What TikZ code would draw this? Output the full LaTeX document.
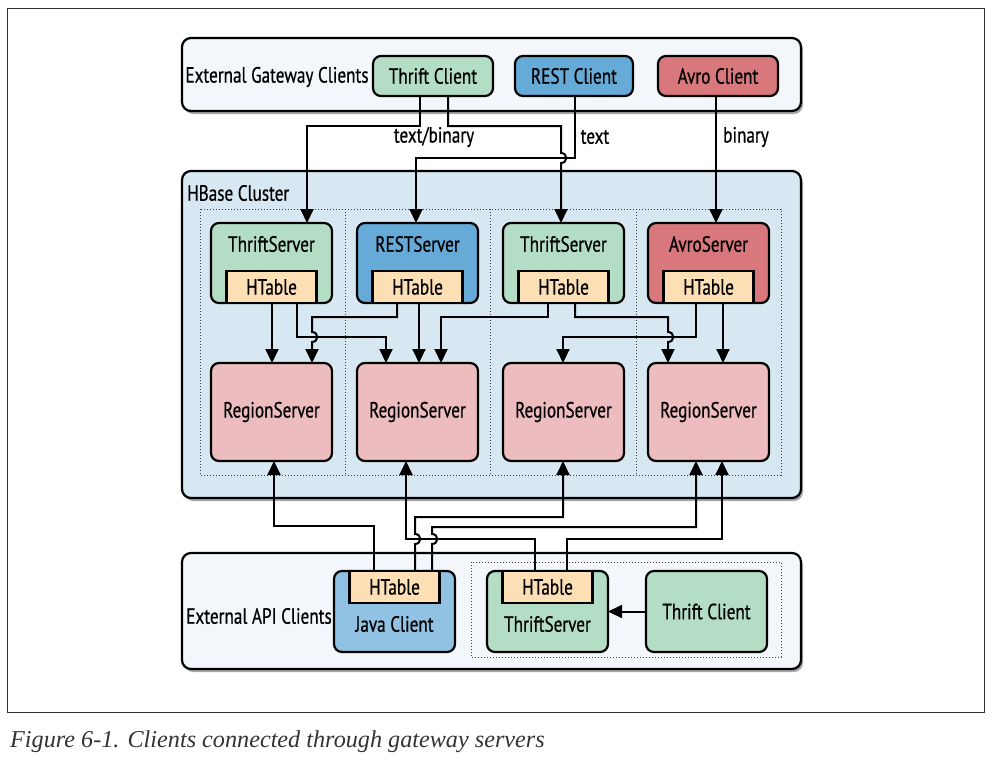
\documentclass[tikz,border=0pt]{standalone}
\usepackage{fontspec}
\setmainfont{Liberation Serif}
\newfontfamily\diag[FakeStretch=0.78,FakeBold=0.6]{PT Sans}
\usetikzlibrary{arrows.meta,shadows}
\definecolor{mint}{HTML}{B3DEC5}
\definecolor{restblue}{HTML}{66AAD8}
\definecolor{avrored}{HTML}{D9787C}
\definecolor{peach}{HTML}{FDDFB6}
\definecolor{rspink}{HTML}{ECBCBE}
\definecolor{clusterbg}{HTML}{D8E8F3}
\definecolor{panelbg}{HTML}{F3F7FB}
\definecolor{javablue}{HTML}{91C1E3}
\definecolor{capgray}{HTML}{333333}
\begin{document}
\begin{tikzpicture}[x=1pt,y=-1pt,
  font=\diag\fontsize{22}{25}\selectfont,
  panel/.style={draw=black, line width=2.2pt, rounded corners=9pt, fill=panelbg,
    inner sep=0pt, outer sep=0pt,
    drop shadow={shadow xshift=2pt, shadow yshift=-3pt, opacity=0.35, fill=black}},
  box/.style={draw=black, line width=2.2pt, rounded corners=8pt, inner sep=0pt, outer sep=0pt},
  htab/.style={draw=black, line width=2.2pt, fill=peach, inner sep=0pt, outer sep=0pt,
    minimum width=90pt, minimum height=32pt},
  srv/.style={box, minimum width=121pt, minimum height=80pt},
  rsv/.style={box, fill=rspink, minimum width=121pt, minimum height=98pt},
  cli/.style={box, minimum width=120pt, minimum height=40pt},
  txt/.style={inner sep=0pt},
  dots/.style={draw=black!75, line width=0.9pt, dash pattern=on 1.2pt off 1.8pt},
  conn/.style={draw=black, line width=2pt, -{Triangle[length=14pt,width=13pt]}},
]
\useasboundingbox (0,0) rectangle (996,761);
% outer frame
\draw[line width=1pt, black!80] (7.5,8.5) rectangle (984.5,712.5);
\node[txt, anchor=west, font=\itshape\fontsize{24.2}{28}\selectfont, text=capgray] (cap) at (10,742) {Figure 6-1. Clients connected through gateway servers};

% ===== top panel
\node[panel, minimum width=619pt, minimum height=73pt] (top) at (491.5,74.5) {};
\node[txt] (egc) at (277,77) {External Gateway Clients};
\node[cli, fill=mint] (tc) at (433,76) {Thrift Client};
\node[cli, fill=restblue, minimum width=118pt] (rc) at (574,76) {REST Client};
\node[cli, fill=avrored] (ac) at (718,76) {Avro Client};

% ===== cluster panel
\node[panel, fill=clusterbg, minimum width=619pt, minimum height=327pt] (cl) at (491.5,334.5) {};
\node[txt, anchor=west] (hbc) at (187,193) {HBase Cluster};
\draw[dots] (200,209) rectangle (781,475);
\draw[dots] (345,209) -- (345,475);
\draw[dots] (490,209) -- (490,475);
\draw[dots] (636,209) -- (636,475);

\node[srv, fill=mint] (s1) at (271.5,263) {};
\node[srv, fill=restblue] (s2) at (417.5,263) {};
\node[srv, fill=mint] (s3) at (563.5,263) {};
\node[srv, fill=avrored] (s4) at (708.5,263) {};
\node[txt] (s1t) at (271.5,244) {ThriftServer};
\node[txt] (s2t) at (417.5,244) {RESTServer};
\node[txt] (s3t) at (563.5,244) {ThriftServer};
\node[txt] (s4t) at (708.5,244) {AvroServer};
\node[htab] (h1) at (271.5,287) {HTable};
\node[htab] (h2) at (417.5,287) {HTable};
\node[htab] (h3) at (563.5,287) {HTable};
\node[htab] (h4) at (708.5,287) {HTable};

\node[rsv] (r1) at (271.5,412) {RegionServer};
\node[rsv] (r2) at (417.5,412) {RegionServer};
\node[rsv] (r3) at (563.5,412) {RegionServer};
\node[rsv] (r4) at (708.5,412) {RegionServer};

% ===== bottom panel
\node[panel, minimum width=619pt, minimum height=116pt] (bot) at (491.5,611) {};
\node[txt] (eac) at (259,616) {External API Clients};
\draw[dots] (471,562) rectangle (781,657);
\node[srv, fill=javablue, minimum height=81pt] (jc) at (394.5,611.5) {};
\node[htab] (jh) at (394.5,587) {HTable};
\node[txt] (jct) at (394.5,624) {Java Client};
\node[srv, fill=mint, minimum height=81pt] (bts) at (547.5,611.5) {};
\node[htab] (bh) at (547.5,587) {HTable};
\node[txt] (btst) at (547.5,624) {ThriftServer};
\node[srv, fill=mint, minimum height=81pt] (btc) at (706.5,611.5) {Thrift Client};

% ===== top connectors
\draw[conn] (tc.south -| 420,0) -- (420,126) -- (307,126) -- (s1.north -| 307,0);
\draw[conn] (tc.south -| 448,0) -- (448,126) -- (561,126) -- (561,153)
   .. controls (568,153) and (568,163) .. (561,163) -- (s3.north -| 561,0);
\draw[conn] (rc.south -| 575,0) -- (575,158) -- (416,158) -- (s2.north -| 416,0);
\draw[conn] (ac.south -| 716,0) -- (s4.north -| 716,0);
\node[txt] (lb1) at (434,137) {text/binary};
\node[txt] (lb2) at (595,137) {text};
\node[txt] (lb3) at (746,137) {binary};

% ===== middle connectors
\draw[conn] (h1.south -| 272,0) -- (r1.north -| 272,0);
\draw[conn] (h1.south -| 297,0) -- (297,337) -- (386,337) -- (r2.north -| 386,0);
\draw[conn] (h2.south -| 397,0) -- (397,317) -- (312,317) -- (312,332)
   .. controls (319,332) and (319,342) .. (312,342) -- (r1.north -| 312,0);
\draw[conn] (h2.south -| 419,0) -- (r2.north -| 419,0);
\draw[conn] (h3.south -| 548,0) -- (548,317) -- (441,317) -- (r2.north -| 441,0);
\draw[conn] (h3.south -| 575,0) -- (575,317) -- (668,317) -- (668,332)
   .. controls (675,332) and (675,342) .. (668,342) -- (r4.north -| 668,0);
\draw[conn] (h4.south -| 696,0) -- (696,337) -- (563,337) -- (r3.north -| 563,0);
\draw[conn] (h4.south -| 723,0) -- (r4.north -| 723,0);

% ===== bottom connectors
\draw[conn] (jh.north -| 374,0) -- (374,526) -- (274,526) -- (r1.south -| 274,0);
\draw[conn] (jh.north -| 415,0) -- (415,544)
   .. controls (422,544) and (422,534) .. (415,534) -- (415,517) -- (563,517) -- (r3.south -| 563,0);
\draw[conn] (jh.north -| 432,0) -- (432,544)
   .. controls (439,544) and (439,534) .. (432,534) -- (432,527) -- (696,527) -- (r4.south -| 696,0);
\draw[conn] (bh.north -| 535,0) -- (535,539) -- (406,539) -- (r2.south -| 406,0);
\draw[conn] (bh.north -| 567,0) -- (567,539) -- (722,539) -- (r4.south -| 722,0);
\draw[conn] (btc.west) -- (bts.east);
\end{tikzpicture}
\end{document}
